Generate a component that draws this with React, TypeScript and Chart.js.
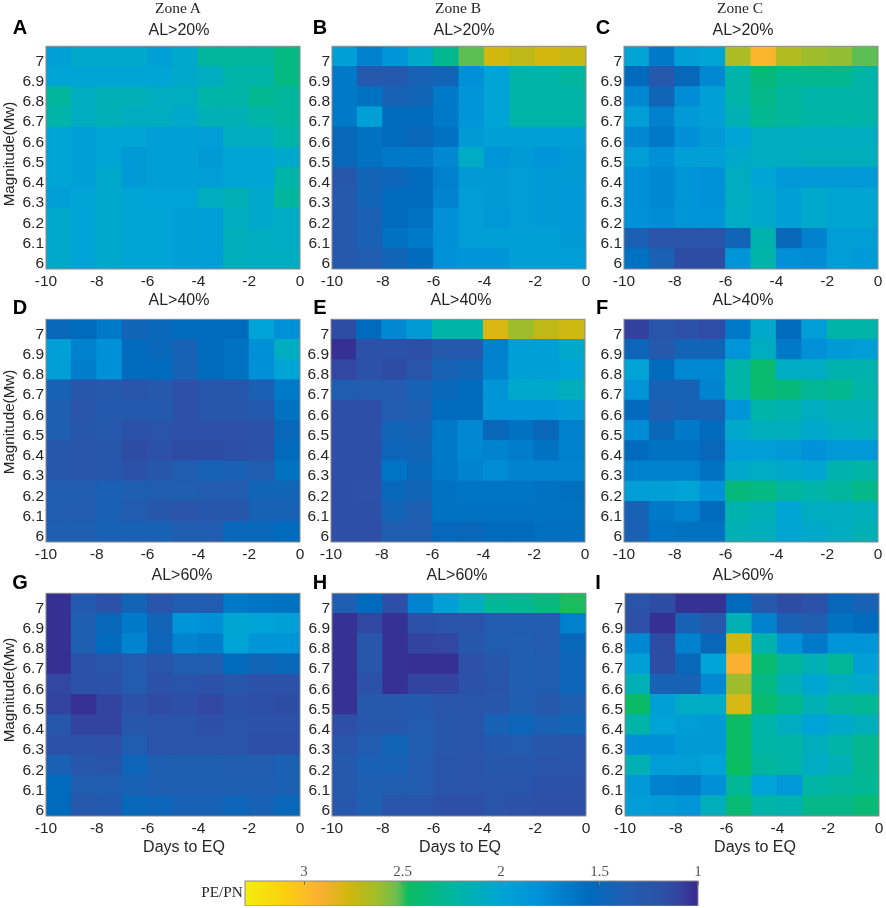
import { useEffect, useRef } from 'react';
import { Chart, registerables } from 'chart.js';

Chart.register(...registerables);

const dayCenters = [-9.5, -8.5, -7.5, -6.5, -5.5, -4.5, -3.5, -2.5, -1.5, -0.5];
const magnitudes = [7, 6.9, 6.8, 6.7, 6.6, 6.5, 6.4, 6.3, 6.2, 6.1, 6];
const dayTicks = [-10, -8, -6, -4, -2, 0];
const scaleTicks = [3, 2.5, 2, 1.5, 1];

// value -> colour
const scaleStops: [number, string][] = [
  [3.3, '#f2ee0c'], [3.09, '#fccf10'], [2.92, '#fbb032'], [2.78, '#d2b70e'], [2.63, '#a2bd28'],
  [2.53, '#6cbe50'], [2.47, '#0abc62'], [2.22, '#00b5a5'], [2.0, '#00a5d5'], [1.8, '#0090d8'],
  [1.55, '#006abd'], [1.38, '#1e5fb2'], [1.17, '#2e4fa7'], [1.08, '#34409e'], [1.0, '#372a8e'],
];

// rows go from Mw 7 down to Mw 6, columns from day -10 to day 0
const panelA = [
  [1.95, 2.05, 2.05, 2.05, 1.95, 2.05, 2.25, 2.25, 2.25, 2.35],
  [2.0, 2.0, 2.0, 2.0, 2.0, 2.05, 2.1, 2.2, 2.2, 2.35],
  [2.25, 2.1, 2.15, 2.15, 2.1, 2.1, 2.2, 2.2, 2.3, 2.25],
  [2.2, 2.1, 2.15, 2.1, 2.1, 2.05, 2.15, 2.15, 2.2, 2.25],
  [2.0, 1.95, 2.0, 2.0, 1.95, 1.95, 1.92, 2.1, 2.1, 2.2],
  [2.0, 1.95, 2.0, 1.9, 1.95, 1.95, 1.9, 2.0, 2.0, 2.05],
  [2.0, 1.95, 2.05, 1.9, 1.95, 1.95, 1.92, 2.0, 2.0, 2.2],
  [1.95, 2.0, 2.05, 2.0, 1.98, 1.98, 2.1, 2.15, 2.05, 2.25],
  [2.05, 1.98, 2.05, 2.0, 2.0, 1.95, 1.93, 2.1, 2.05, 2.08],
  [2.05, 1.98, 2.05, 2.0, 2.0, 1.95, 1.93, 2.12, 2.1, 2.08],
  [2.05, 1.98, 2.05, 2.0, 2.0, 1.95, 1.93, 2.12, 2.1, 2.1],
];
const panelB = [
  [1.95, 1.7, 1.85, 2.05, 2.3, 2.52, 2.78, 2.72, 2.78, 2.75],
  [1.65, 1.3, 1.32, 1.42, 1.45, 1.8, 2.0, 2.2, 2.2, 2.25],
  [1.65, 1.6, 1.42, 1.45, 1.65, 1.85, 2.0, 2.2, 2.2, 2.2],
  [1.65, 1.95, 1.55, 1.55, 1.65, 1.85, 2.0, 2.2, 2.2, 2.2],
  [1.5, 1.6, 1.55, 1.5, 1.6, 1.9, 1.95, 1.95, 1.95, 1.95],
  [1.5, 1.6, 1.65, 1.65, 1.75, 2.08, 1.85, 1.9, 1.85, 1.9],
  [1.28, 1.45, 1.48, 1.55, 1.7, 1.9, 1.9, 1.92, 1.9, 1.9],
  [1.3, 1.45, 1.55, 1.55, 1.72, 1.92, 1.9, 1.92, 1.9, 1.88],
  [1.3, 1.4, 1.55, 1.6, 1.8, 1.92, 1.88, 1.92, 1.9, 1.88],
  [1.3, 1.4, 1.6, 1.65, 1.8, 1.92, 1.95, 1.95, 1.95, 1.9],
  [1.3, 1.35, 1.45, 1.55, 1.8, 1.85, 1.85, 1.95, 1.95, 1.92],
];
const panelC = [
  [2.0, 1.65, 1.95, 2.0, 2.66, 2.95, 2.68, 2.62, 2.6, 2.52],
  [1.55, 1.3, 1.5, 1.75, 2.2, 2.38, 2.3, 2.3, 2.3, 2.2],
  [1.75, 1.45, 1.78, 1.95, 2.2, 2.32, 2.25, 2.2, 2.2, 2.2],
  [1.95, 1.7, 1.9, 1.95, 2.15, 2.3, 2.25, 2.22, 2.22, 2.2],
  [1.75, 1.65, 1.8, 1.9, 2.0, 2.1, 2.1, 2.1, 2.1, 2.1],
  [1.92, 1.8, 1.95, 1.95, 2.05, 2.1, 2.1, 2.12, 2.12, 2.12],
  [1.8, 1.75, 1.85, 1.82, 2.1, 2.0, 1.88, 1.88, 1.88, 1.88],
  [1.8, 1.75, 1.85, 1.82, 2.1, 2.05, 1.95, 2.05, 2.02, 2.02],
  [1.82, 1.78, 1.85, 1.85, 2.08, 2.05, 1.95, 2.05, 2.02, 2.02],
  [1.4, 1.22, 1.22, 1.22, 1.45, 2.18, 1.5, 1.7, 1.92, 1.92],
  [1.6, 1.4, 1.15, 1.15, 1.85, 2.2, 1.8, 1.78, 1.92, 1.9],
];
const panelD = [
  [1.5, 1.55, 1.65, 1.45, 1.5, 1.55, 1.55, 1.55, 1.98, 1.8],
  [1.95, 1.7, 1.8, 1.55, 1.5, 1.42, 1.55, 1.6, 1.8, 2.1],
  [1.95, 1.68, 1.8, 1.55, 1.55, 1.42, 1.55, 1.6, 1.8, 2.0],
  [1.42, 1.28, 1.3, 1.25, 1.3, 1.18, 1.28, 1.28, 1.4, 1.65],
  [1.38, 1.25, 1.32, 1.32, 1.32, 1.18, 1.28, 1.28, 1.32, 1.6],
  [1.38, 1.28, 1.3, 1.2, 1.22, 1.18, 1.18, 1.18, 1.2, 1.5],
  [1.27, 1.25, 1.27, 1.15, 1.18, 1.15, 1.15, 1.17, 1.2, 1.55],
  [1.27, 1.25, 1.28, 1.2, 1.28, 1.35, 1.42, 1.4, 1.35, 1.6],
  [1.35, 1.35, 1.4, 1.38, 1.35, 1.37, 1.33, 1.33, 1.45, 1.45],
  [1.35, 1.33, 1.4, 1.33, 1.27, 1.22, 1.27, 1.27, 1.42, 1.42],
  [1.38, 1.38, 1.42, 1.42, 1.42, 1.35, 1.35, 1.5, 1.5, 1.55],
];
const panelE = [
  [1.15, 1.55, 1.75, 1.9, 2.2, 2.2, 2.8, 2.62, 2.72, 2.76],
  [1.02, 1.2, 1.2, 1.17, 1.3, 1.3, 1.7, 1.95, 1.95, 2.05],
  [1.12, 1.2, 1.15, 1.25, 1.42, 1.45, 1.72, 1.95, 1.95, 1.98],
  [1.35, 1.33, 1.33, 1.42, 1.5, 1.55, 1.85, 2.05, 2.05, 2.12],
  [1.17, 1.17, 1.33, 1.38, 1.55, 1.55, 1.85, 1.85, 1.85, 1.9],
  [1.17, 1.17, 1.45, 1.42, 1.65, 1.75, 1.5, 1.6, 1.5, 1.7],
  [1.17, 1.17, 1.48, 1.45, 1.65, 1.75, 1.72, 1.68, 1.6, 1.7],
  [1.17, 1.17, 1.62, 1.5, 1.65, 1.72, 1.78, 1.72, 1.72, 1.72],
  [1.17, 1.18, 1.5, 1.45, 1.6, 1.62, 1.62, 1.62, 1.6, 1.58],
  [1.17, 1.17, 1.45, 1.38, 1.6, 1.6, 1.6, 1.6, 1.6, 1.6],
  [1.17, 1.17, 1.35, 1.35, 1.52, 1.5, 1.55, 1.55, 1.58, 1.58],
];
const panelF = [
  [1.08, 1.25, 1.18, 1.16, 1.65, 2.05, 1.55, 1.92, 2.2, 2.2],
  [1.48, 1.3, 1.45, 1.45, 1.85, 2.1, 1.65, 1.8, 1.9, 1.92],
  [2.0, 1.55, 1.75, 1.75, 2.2, 2.42, 2.08, 2.08, 2.18, 2.18],
  [1.85, 1.42, 1.42, 1.72, 2.2, 2.42, 2.38, 2.28, 2.3, 2.2],
  [1.55, 1.38, 1.42, 1.42, 1.85, 2.2, 2.18, 2.1, 2.15, 2.15],
  [1.78, 1.5, 1.65, 1.55, 2.05, 2.12, 2.12, 2.05, 2.1, 2.12],
  [1.55, 1.6, 1.6, 1.5, 1.92, 1.92, 1.9, 1.82, 1.88, 1.88],
  [1.7, 1.7, 1.7, 1.6, 2.05, 2.08, 2.05, 2.02, 2.18, 2.2],
  [1.92, 1.95, 1.98, 1.82, 2.38, 2.35, 2.25, 2.2, 2.25, 2.32],
  [1.42, 1.65, 1.7, 1.55, 2.18, 2.15, 2.0, 2.1, 2.1, 2.12],
  [1.4, 1.62, 1.6, 1.6, 2.15, 2.12, 2.02, 2.05, 2.1, 2.15],
];
const panelG = [
  [1.02, 1.32, 1.2, 1.45, 1.25, 1.35, 1.35, 1.65, 1.62, 1.6],
  [1.02, 1.38, 1.5, 1.65, 1.45, 1.85, 1.8, 2.02, 1.98, 1.95],
  [1.02, 1.38, 1.55, 1.72, 1.48, 1.72, 1.68, 1.98, 1.85, 1.85],
  [1.02, 1.2, 1.25, 1.33, 1.25, 1.35, 1.35, 1.55, 1.45, 1.5],
  [1.12, 1.2, 1.2, 1.33, 1.2, 1.25, 1.2, 1.27, 1.2, 1.2],
  [1.1, 1.03, 1.1, 1.2, 1.15, 1.17, 1.12, 1.2, 1.17, 1.15],
  [1.27, 1.1, 1.1, 1.28, 1.22, 1.22, 1.17, 1.22, 1.2, 1.2],
  [1.2, 1.2, 1.18, 1.35, 1.22, 1.22, 1.22, 1.22, 1.17, 1.17],
  [1.4, 1.27, 1.25, 1.48, 1.38, 1.38, 1.38, 1.35, 1.35, 1.4],
  [1.55, 1.35, 1.35, 1.42, 1.38, 1.38, 1.38, 1.38, 1.38, 1.4],
  [1.55, 1.3, 1.32, 1.5, 1.48, 1.42, 1.42, 1.48, 1.42, 1.5],
];
const panelH = [
  [1.38, 1.55, 1.17, 1.72, 1.95, 2.1, 2.28, 2.3, 2.36, 2.48],
  [1.03, 1.12, 1.03, 1.2, 1.22, 1.22, 1.33, 1.35, 1.33, 1.7],
  [1.03, 1.27, 1.03, 1.1, 1.12, 1.27, 1.35, 1.37, 1.33, 1.5],
  [1.03, 1.28, 1.03, 1.02, 1.02, 1.18, 1.28, 1.37, 1.35, 1.48],
  [1.03, 1.18, 1.03, 1.1, 1.1, 1.2, 1.25, 1.37, 1.35, 1.48],
  [1.03, 1.3, 1.3, 1.32, 1.25, 1.25, 1.28, 1.38, 1.3, 1.38],
  [1.17, 1.27, 1.27, 1.33, 1.28, 1.25, 1.42, 1.48, 1.4, 1.45],
  [1.25, 1.35, 1.45, 1.35, 1.27, 1.25, 1.32, 1.33, 1.28, 1.25],
  [1.3, 1.4, 1.42, 1.33, 1.25, 1.22, 1.27, 1.27, 1.23, 1.23],
  [1.3, 1.38, 1.36, 1.33, 1.25, 1.22, 1.25, 1.25, 1.2, 1.2],
  [1.27, 1.38, 1.25, 1.25, 1.17, 1.17, 1.22, 1.2, 1.17, 1.17],
];
const panelI = [
  [1.23, 1.15, 1.03, 1.03, 1.55, 1.3, 1.15, 1.2, 1.5, 1.42],
  [1.18, 1.02, 1.42, 1.3, 2.15, 1.7, 1.4, 1.35, 1.6, 1.55],
  [1.75, 1.15, 1.7, 1.5, 2.78, 2.18, 1.8, 1.65, 1.85, 1.85],
  [1.95, 1.15, 1.5, 1.98, 2.92, 2.42, 2.25, 2.15, 2.28, 1.95],
  [2.15, 1.42, 1.42, 1.75, 2.62, 2.35, 2.15, 2.02, 2.1, 2.05],
  [2.45, 1.95, 2.08, 2.08, 2.8, 2.42, 2.3, 2.15, 2.25, 2.28],
  [2.2, 1.98, 1.92, 1.9, 2.46, 2.2, 2.1, 1.98, 2.05, 2.12],
  [1.8, 1.8, 1.9, 1.9, 2.46, 2.22, 2.2, 2.12, 2.2, 2.3],
  [2.15, 1.92, 1.92, 1.98, 2.47, 2.25, 2.22, 2.08, 2.15, 2.3],
  [1.9, 1.7, 1.68, 1.8, 2.28, 1.98, 1.88, 2.22, 2.25, 2.28],
  [1.92, 1.9, 1.85, 2.12, 2.4, 2.2, 2.18, 2.32, 2.32, 2.4],
];

const SANS = '"Liberation Sans", Arial, sans-serif';
const SERIF = '"Liberation Serif", "Times New Roman", serif';
const INK = '#262626';
const PLOT_W = 254;
const PLOT_H = 228;
const LEFT = 46;
const TOP = 6;
const RIGHT = 14;
const BOTTOM = 44;

function hexToRgb(hex: string) {
  return [1, 3, 5].map((i) => parseInt(hex.slice(i, i + 2), 16));
}

function colorFor(v: number) {
  for (let i = 0; i < scaleStops.length - 1; i++) {
    const [hi, hiC] = scaleStops[i];
    const [lo, loC] = scaleStops[i + 1];
    if (v <= hi && v >= lo) {
      const t = (v - lo) / (hi - lo);
      const a = hexToRgb(loC);
      const b = hexToRgb(hiC);
      return `rgb(${a.map((c, k) => Math.round(c + (b[k] - c) * t)).join(',')})`;
    }
  }
  return scaleStops[scaleStops.length - 1][1];
}

const framePlugin = {
  id: 'frame',
  afterDraw(chart: Chart) {
    const { ctx, chartArea: a } = chart;
    ctx.save();
    ctx.strokeStyle = '#8a8a8a';
    ctx.lineWidth = 1;
    ctx.strokeRect(a.left, a.top, a.right - a.left, a.bottom - a.top);
    ctx.restore();
  },
};

function Heatmap({ rows, x, y }: { rows: number[][]; x: number; y: number }) {
  const canvasRef = useRef<HTMLCanvasElement>(null);

  useEffect(() => {
    if (!canvasRef.current) return;
    const cells = magnitudes.flatMap((m, r) =>
      dayCenters.map((d, c) => ({ x: d, y: [m - 0.05, m + 0.05], v: rows[r][c] })),
    );
    const chart = new Chart(canvasRef.current, {
      type: 'bar',
      data: {
        datasets: [{
          data: cells as any,
          backgroundColor: cells.map((c) => colorFor(c.v)),
          barPercentage: 1,
          categoryPercentage: 1,
          borderWidth: 0,
          inflateAmount: 0.5,
        }],
      },
      plugins: [framePlugin],
      options: {
        animation: false,
        responsive: false,
        layout: { padding: { top: TOP, right: RIGHT, left: 0, bottom: 0 } },
        plugins: { legend: { display: false }, tooltip: { enabled: false } },
        scales: {
          x: {
            type: 'linear',
            offset: false,
            min: -10,
            max: 0,
            border: { display: false },
            grid: { display: false, drawTicks: false },
            afterFit: (s: any) => { s.height = BOTTOM; },
            afterBuildTicks: (s: any) => { s.ticks = dayTicks.map((value) => ({ value })); },
            ticks: { color: INK, padding: 3, maxRotation: 0, autoSkip: false, font: { family: SANS, size: 15.5 } },
          },
          y: {
            type: 'linear',
            offset: false,
            min: 5.95,
            max: 7.05,
            border: { display: false },
            grid: { display: false, drawTicks: false },
            afterFit: (s: any) => { s.width = LEFT; },
            afterBuildTicks: (s: any) => { s.ticks = magnitudes.map((value) => ({ value })); },
            ticks: {
              color: INK,
              padding: 2,
              autoSkip: false,
              labelOffset: 5,
              font: { family: SANS, size: 15.5 },
              callback: (v: any) => String(Number(Number(v).toFixed(1))),
            },
          },
        },
      },
    });
    return () => { chart.destroy(); };
  }, [rows]);

  return (
    <canvas
      ref={canvasRef}
      width={LEFT + PLOT_W + RIGHT}
      height={TOP + PLOT_H + BOTTOM}
      style={{ position: 'absolute', left: x - LEFT, top: y - TOP }}
    />
  );
}

function ColorBar() {
  const canvasRef = useRef<HTMLCanvasElement>(null);

  useEffect(() => {
    if (!canvasRef.current) return;
    const maxV = scaleStops[0][0];
    const minV = scaleStops[scaleStops.length - 1][0];
    const chart = new Chart(canvasRef.current, {
      type: 'bar',
      data: {
        labels: ['PE/PN'],
        datasets: [{
          data: [[maxV, minV]] as any,
          barPercentage: 1,
          categoryPercentage: 1,
          borderWidth: 0,
          backgroundColor: (c: any) => {
            const area = c.chart.chartArea;
            if (!area) return '#000';
            const g = c.chart.ctx.createLinearGradient(area.left, 0, area.right, 0);
            scaleStops.forEach(([v, col]) => g.addColorStop((maxV - v) / (maxV - minV), col));
            return g;
          },
        }],
      },
      plugins: [framePlugin],
      options: {
        animation: false,
        responsive: false,
        indexAxis: 'y',
        layout: { padding: { left: 20, right: 20, top: 0, bottom: 0 } },
        plugins: { legend: { display: false }, tooltip: { enabled: false } },
        scales: {
          x: {
            type: 'linear',
            position: 'top',
            reverse: true,
            min: minV,
            max: maxV,
            border: { display: false },
            grid: { drawOnChartArea: false, tickLength: -4, tickColor: '#777', z: 1 },
            afterFit: (s: any) => { s.height = 21; },
            afterBuildTicks: (s: any) => { s.ticks = scaleTicks.map((value) => ({ value })); },
            ticks: {
              color: '#555',
              padding: 4,
              maxRotation: 0,
              autoSkip: false,
              font: { family: SERIF, size: 15 },
              callback: (v: any) => String(v),
            },
          },
          y: { display: false },
        },
      },
    });
    return () => { chart.destroy(); };
  }, []);

  return (
    <canvas
      ref={canvasRef}
      width={493}
      height={46}
      style={{ position: 'absolute', left: 225, top: 860 }}
    />
  );
}

function Label({ text, x, y, font, size, bold, rotate, color }: {
  text: string; x: number; y: number; font: string; size: number; bold?: boolean; rotate?: boolean; color?: string;
}) {
  return (
    <div
      style={{
        position: 'absolute',
        left: x,
        top: y,
        transform: `translate(-50%, -50%)${rotate ? ' rotate(-90deg)' : ''}`,
        fontFamily: font,
        fontSize: size,
        fontWeight: bold ? 700 : 400,
        color: color ?? INK,
        whiteSpace: 'nowrap',
        lineHeight: 1,
      }}
    >
      {text}
    </div>
  );
}

const panels = [
  { rows: panelA, x: 46, y: 41, letter: 'A', lx: 20, ly: 27, title: 'AL>20%', tx: 179, ty: 30 },
  { rows: panelB, x: 332, y: 41, letter: 'B', lx: 320, ly: 27, title: 'AL>20%', tx: 464, ty: 30 },
  { rows: panelC, x: 624, y: 41, letter: 'C', lx: 603, ly: 27, title: 'AL>20%', tx: 743, ty: 30 },
  { rows: panelD, x: 46, y: 314, letter: 'D', lx: 20, ly: 307, title: 'AL>40%', tx: 179, ty: 300 },
  { rows: panelE, x: 331, y: 314, letter: 'E', lx: 320, ly: 307, title: 'AL>40%', tx: 461, ty: 300 },
  { rows: panelF, x: 624, y: 314, letter: 'F', lx: 602, ly: 307, title: 'AL>40%', tx: 743, ty: 300 },
  { rows: panelG, x: 46, y: 588, letter: 'G', lx: 20, ly: 582, title: 'AL>60%', tx: 182, ty: 575 },
  { rows: panelH, x: 332, y: 588, letter: 'H', lx: 320, ly: 582, title: 'AL>60%', tx: 457, ty: 575 },
  { rows: panelI, x: 625, y: 588, letter: 'I', lx: 598, ly: 582, title: 'AL>60%', tx: 743, ty: 575 },
];

export default function App() {
  return (
    <div style={{ position: 'absolute', left: 0, top: 0, width: 886, height: 908, background: '#fff', overflow: 'hidden' }}>
      {panels.map((p) => (
        <Heatmap key={p.letter} rows={p.rows} x={p.x} y={p.y} />
      ))}
      <ColorBar />
      {panels.map((p) => (
        <Label key={p.letter} text={p.letter} x={p.lx} y={p.ly} font={SANS} size={20} bold color="#000" />
      ))}
      {panels.map((p) => (
        <Label key={p.letter} text={p.title} x={p.tx} y={p.ty} font={SANS} size={16} />
      ))}
      <Label text="Zone A" x={178} y={8} font={SERIF} size={15.5} />
      <Label text="Zone B" x={458} y={8} font={SERIF} size={15.5} />
      <Label text="Zone C" x={740} y={8} font={SERIF} size={15.5} />
      <Label text="Magnitude(Mw)" x={9} y={154} font={SANS} size={15.2} rotate />
      <Label text="Magnitude(Mw)" x={9} y={422} font={SANS} size={15.2} rotate />
      <Label text="Magnitude(Mw)" x={9} y={690} font={SANS} size={15.2} rotate />
      <Label text="Days to EQ" x={184} y={847} font={SANS} size={16} />
      <Label text="Days to EQ" x={460} y={847} font={SANS} size={16} />
      <Label text="Days to EQ" x={755} y={847} font={SANS} size={16} />
      <Label text="PE/PN" x={222} y={892} font={SERIF} size={15.3} />
    </div>
  );
}
